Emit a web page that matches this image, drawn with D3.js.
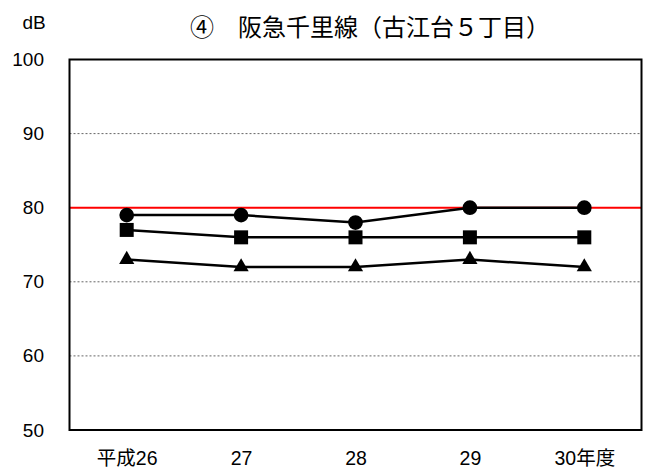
<!DOCTYPE html>
<html>
<head>
<meta charset="utf-8">
<script src="https://cdn.jsdelivr.net/npm/d3@7"></script>
<style>
  body { margin: 0; background: #fff; overflow: hidden; }
  svg { display: block; }
  text { font-family: Arial, "Liberation Sans", "Noto Sans CJK JP", sans-serif; fill: #000; }
</style>
</head>
<body>
<div id="chart"></div>
<script>
// categories (fiscal years)
const years = ['平成26', '27', '28', '29', '30年度']
// series values (dB)
const circleVals = [79, 79, 78, 80, 80]
const squareVals = [77, 76, 76, 76, 76]
const triangleVals = [73, 72, 72, 73, 72]
// y ticks and the limit line
const yTicks = [50, 60, 70, 80, 90, 100]
const limitValue = 80
const titleText = '④　阪急千里線（古江台５丁目）'

const width = 648
const height = 472
const margin = { top: 59.5, right: 6.5, bottom: 42, left: 69.5 }
const innerWidth = width - margin.left - margin.right
const innerHeight = height - margin.top - margin.bottom

const svg = d3.select('#chart').append('svg')
  .attr('width', width)
  .attr('height', height)

const g = svg.append('g')
  .attr('transform', `translate(${margin.left},${margin.top})`)

// scales
const xScale = d3.scalePoint()
  .domain(years)
  .range([0, innerWidth])
  .padding(0.5)
const yScale = d3.scaleLinear()
  .domain([50, 100])
  .range([innerHeight, 0])

// dotted gridlines
g.append('g')
  .selectAll('line')
  .data(yTicks.filter(d => d !== 50 && d !== 100 && d !== limitValue))
  .join('line')
    .attr('x1', 0)
    .attr('x2', innerWidth)
    .attr('y1', d => yScale(d))
    .attr('y2', d => yScale(d))
    .attr('stroke', '#666')
    .attr('stroke-width', 1)
    .attr('stroke-dasharray', '2,2')

// y axis labels
const yAxis = d3.axisLeft(yScale)
  .tickValues(yTicks)
  .tickSize(0)
  .tickPadding(25.5)
g.append('g')
  .call(yAxis)
  .call(a => a.select('.domain').remove())
  .attr('font-family', null)
  .selectAll('text')
    .style('font-size', '19px')

// x axis labels
const xAxis = d3.axisBottom(xScale)
  .tickSize(0)
g.append('g')
  .attr('transform', `translate(0,${innerHeight})`)
  .call(xAxis)
  .call(a => a.select('.domain').remove())
  .attr('font-family', null)
  .selectAll('text')
    .style('font-size', '19.5px')
    .attr('y', 34.5)
    .attr('dy', null)

// limit line
g.append('line')
  .attr('x1', 0)
  .attr('x2', innerWidth)
  .attr('y1', yScale(limitValue))
  .attr('y2', yScale(limitValue))
  .attr('stroke', '#ff0000')
  .attr('stroke-width', 2)

// series
const series = [
  { values: circleVals, symbol: d3.symbolCircle, size: 170 },
  { values: squareVals, symbol: d3.symbolSquare, size: 196 },
  { values: triangleVals, symbol: d3.symbolTriangle, size: 100 }
]
const line = d3.line()
  .x((d, i) => xScale(years[i]))
  .y(d => yScale(d))

series.forEach(s => {
  g.append('path')
    .datum(s.values)
    .attr('fill', 'none')
    .attr('stroke', '#000')
    .attr('stroke-width', 2.5)
    .attr('d', line)
  g.append('g')
    .selectAll('path')
    .data(s.values)
    .join('path')
      .attr('transform', (d, i) => `translate(${xScale(years[i])},${yScale(d)})`)
      .attr('d', d3.symbol(s.symbol, s.size))
      .attr('fill', '#000')
})

// frame
g.append('rect')
  .attr('width', innerWidth)
  .attr('height', innerHeight)
  .attr('fill', 'none')
  .attr('stroke', '#000')
  .attr('stroke-width', 2)

// title and unit
svg.append('text')
  .attr('x', 370)
  .attr('y', 36)
  .attr('text-anchor', 'middle')
  .style('font-family', '"Noto Sans CJK JP", sans-serif')
  .style('font-size', '24px')
  .text(titleText)
svg.append('text')
  .attr('x', 34)
  .attr('y', 29)
  .attr('text-anchor', 'middle')
  .style('font-size', '19px')
  .text('dB')
</script>
</body>
</html>
